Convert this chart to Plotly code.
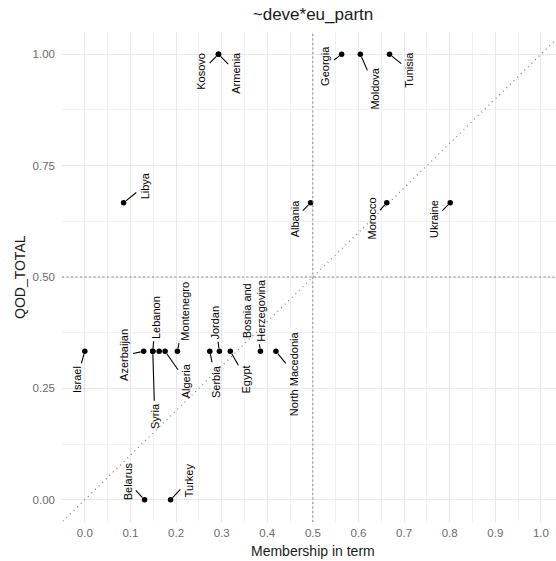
import plotly.graph_objects as go

# ---- data -------------------------------------------------------------
countries = [
    "Israel", "Libya", "Azerbaijan", "Syria", "Lebanon", "Palestine",
    "Algeria", "Montenegro", "Serbia", "Jordan", "Egypt",
    "Bosnia and Herzegovina", "North Macedonia", "Belarus", "Turkey",
    "Albania", "Morocco", "Ukraine", "Kosovo", "Armenia", "Georgia",
    "Moldova", "Tunisia",
]
membership = [
    0.000, 0.085, 0.129, 0.149, 0.149, 0.163,
    0.176, 0.203, 0.274, 0.295, 0.319,
    0.385, 0.419, 0.131, 0.188,
    0.495, 0.662, 0.801, 0.293, 0.293, 0.563,
    0.604, 0.668,
]
qod_total = [
    1/3, 2/3, 1/3, 1/3, 1/3, 1/3,
    1/3, 1/3, 1/3, 1/3, 1/3,
    1/3, 1/3, 0.0, 0.0,
    2/3, 2/3, 2/3, 1.0, 1.0, 1.0,
    1.0, 1.0,
]
x_ticks = [0.0, 0.1, 0.2, 0.3, 0.4, 0.5, 0.6, 0.7, 0.8, 0.9, 1.0]
y_ticks = [0.0, 0.25, 0.5, 0.75, 1.0]
y_tick_text = ["0.00", "0.25", "0.50", "0.75", "1.00"]

# ---- label placement (pixel offset of label centre from its point) ------
# countries without an entry are left unlabelled (repel overflow)
label_offsets = {
    "Israel": (-8, 28),
    "Libya": (21, -17),
    "Azerbaijan": (-19, 4),
    "Syria": (2, 65),
    "Lebanon": (3, -34),
    "Algeria": (21, 30),
    "Montenegro": (8, -40),
    "Serbia": (6, 30),
    "Jordan": (-4, -29),
    "Egypt": (16, 28),
    "Bosnia and Herzegovina": (-6, -41),
    "North Macedonia": (18, 22),
    "Belarus": (-17, -18),
    "Turkey": (18, -19),
    "Albania": (-16, 16),
    "Morocco": (-15, 16),
    "Ukraine": (-16, 16),
    "Kosovo": (-17, 17),
    "Armenia": (18, 18),
    "Georgia": (-16, 12),
    "Moldova": (15, 34),
    "Tunisia": (20, 16),
}
label_text = {"Bosnia and Herzegovina": "Bosnia and<br>Herzegovina"}

FONT = "Liberation Sans, Arial, Helvetica, sans-serif"
X_RANGE = [-0.05, 1.033]
Y_RANGE = [-0.05, 1.05]
REF = "#858585"

fig = go.Figure()

# reference lines: y = x diagonal, plus the 0.5 cut-offs on both axes
fig.add_trace(go.Scatter(
    x=[X_RANGE[0] - 0.1, X_RANGE[1] + 0.1],
    y=[X_RANGE[0] - 0.1, X_RANGE[1] + 0.1],
    mode="lines", line=dict(color=REF, width=1.3, dash="1px,4px"),
    hoverinfo="skip", showlegend=False,
))
fig.add_hline(y=0.5, line=dict(color=REF, width=1, dash="2px,2.5px"))
fig.add_vline(x=0.5, line=dict(color=REF, width=1, dash="2px,2.5px"))

# country points
fig.add_trace(go.Scatter(
    x=membership, y=qod_total, mode="markers", text=countries,
    marker=dict(color="black", size=5.5),
    hovertemplate="%{text}<br>%{x:.3f}, %{y:.2f}<extra></extra>",
    showlegend=False,
))

# repelled, rotated country labels with leader segments
for name, xv, yv in zip(countries, membership, qod_total):
    if name not in label_offsets:
        continue
    ax, ay = label_offsets[name]
    fig.add_annotation(
        x=xv, y=yv, xref="x", yref="y",
        text=label_text.get(name, name),
        textangle=-90, ax=ax, ay=ay,
        showarrow=True, arrowhead=0, arrowwidth=1.1, arrowcolor="black",
        standoff=3, startstandoff=1,
        font=dict(family=FONT, size=11, color="black"),
    )

# axis titles
fig.add_annotation(
    x=0.5, y=0, xref="x", yref="paper", yshift=-29,
    text="Membership in term", showarrow=False, yanchor="middle",
    font=dict(family=FONT, size=14, color="#1a1a1a"),
)
fig.add_annotation(
    x=0, y=0.5, xref="paper", yref="paper", xshift=-42,
    text="QOD_TOTAL", showarrow=False, textangle=-90,
    xanchor="center", yanchor="middle",
    font=dict(family=FONT, size=14, color="#1a1a1a"),
)

grid_major = "#e8e8e8"
grid_minor = "#f1f1f1"

fig.update_layout(
    width=556, height=561,
    margin=dict(l=62, r=0, t=32, b=39),
    paper_bgcolor="white", plot_bgcolor="white",
    font=dict(family=FONT, color="#1a1a1a"),
    title=dict(
        text="~deve*eu_partn", xref="container", x=0.563,
        yref="container", y=1 - 14 / 561, xanchor="center", yanchor="middle",
        font=dict(family=FONT, size=17, color="#1a1a1a"),
    ),
    xaxis=dict(
        range=X_RANGE, tickvals=x_ticks, tickformat=".1f",
        showgrid=True, gridcolor=grid_major, gridwidth=1,
        minor=dict(dtick=0.05, tick0=0, showgrid=True,
                   gridcolor=grid_minor, gridwidth=0.7),
        zeroline=False, showline=False, ticks="",
        ticklabelstandoff=2,
        tickfont=dict(family=FONT, size=11.5, color="#6b6b6b"),
    ),
    yaxis=dict(
        range=Y_RANGE, tickvals=y_ticks, ticktext=y_tick_text,
        showgrid=True, gridcolor=grid_major, gridwidth=1,
        minor=dict(dtick=0.125, tick0=0, showgrid=True,
                   gridcolor=grid_minor, gridwidth=0.7),
        zeroline=False, showline=False, ticks="",
        ticklabelstandoff=6,
        tickfont=dict(family=FONT, size=11.5, color="#6b6b6b"),
    ),
)

fig.write_html("out.html")
